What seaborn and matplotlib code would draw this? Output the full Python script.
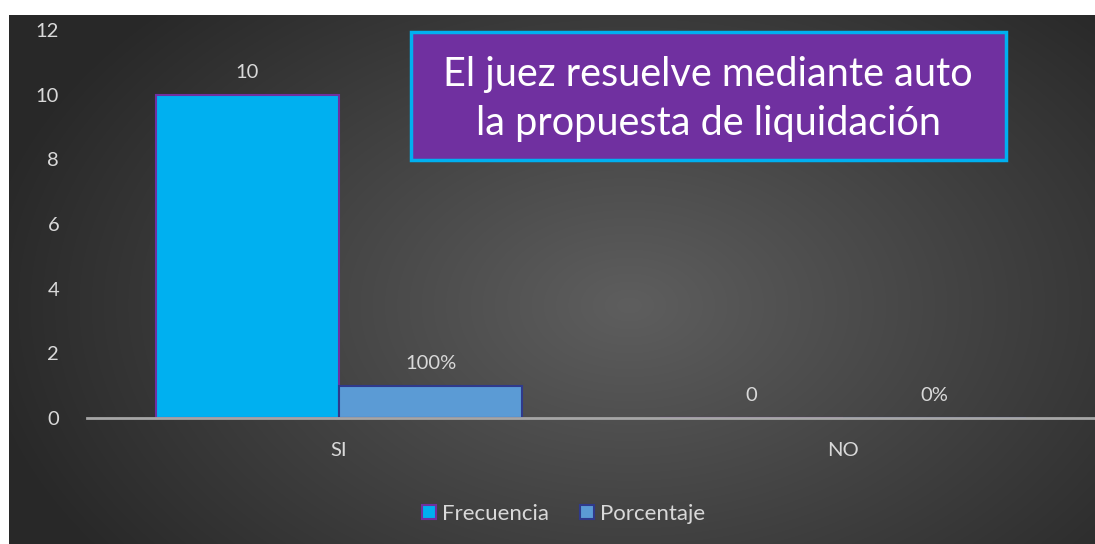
import numpy as np
import pandas as pd
import matplotlib
matplotlib.use("Agg")
import matplotlib.pyplot as plt
from matplotlib.patches import Patch, Rectangle
import seaborn as sns

# Datos del gráfico
categorias = ["SI", "NO"]
series = ["Frecuencia", "Porcentaje"]
frecuencia = [10, 0]
porcentaje = [1.0, 0.0]
etiquetas_frec = ["10", "0"]
etiquetas_porc = ["100%", "0%"]
titulo = "El juez resuelve mediante auto\nla propuesta de liquidación"

colores = {"Frecuencia": "#00B0F0", "Porcentaje": "#5B9BD5"}
bordes = {"Frecuencia": "#7030A0", "Porcentaje": "#2F3A8C"}

df = pd.DataFrame({
    "Categoria": categorias * 2,
    "Serie": ["Frecuencia"] * 2 + ["Porcentaje"] * 2,
    "Valor": frecuencia + porcentaje,
})

sns.set_style("white")
plt.rcParams["font.family"] = ["Lato", "DejaVu Sans"]
texto_gris = "#D9D9D9"

fig = plt.figure(figsize=(10.95, 5.44), dpi=100, facecolor="white")

# Fondo con degradado radial
fondo = fig.add_axes([9 / 1095, 0, 1086 / 1095, 529 / 544])
ny, nx = 529, 1086
yy, xx = np.mgrid[0:ny, 0:nx]
r = np.sqrt(((xx - 620) / 660) ** 2 + ((yy - 290) / 430) ** 2)
r = np.clip(r, 0, 1)
g = (0x5E + (0x28 - 0x5E) * r) / 255
img = np.dstack([g, g, g])
fondo.imshow(img, aspect="auto", extent=[0, 1, 0, 1])
fondo.set_axis_off()

ax = fig.add_axes([87 / 1095, (544 - 418) / 544, 1 - 87 / 1095, 388 / 544])
ax.set_facecolor("none")

sns.barplot(data=df, x="Categoria", y="Valor", hue="Serie", order=categorias,
            hue_order=series, palette=colores, saturation=1, width=0.728, ax=ax,
            legend=False, zorder=3)

for cont, serie, etiquetas in zip(ax.containers, series, [etiquetas_frec, etiquetas_porc]):
    for barra in cont:
        barra.set_edgecolor(bordes[serie])
        barra.set_linewidth(1.5)
    ax.bar_label(cont, labels=etiquetas, padding=10, color=texto_gris, fontsize=14.5)

ax.set_xlim(-0.5, 1.5)
ax.set_ylim(0, 12)
ax.set_yticks(range(0, 13, 2))
ax.set_xlabel("")
ax.set_ylabel("")
for lado in ["top", "right", "left"]:
    ax.spines[lado].set_visible(False)
ax.spines["bottom"].set_color("#A6A6A6")
ax.spines["bottom"].set_linewidth(2)
ax.spines["bottom"].set_zorder(4)
ax.tick_params(axis="y", length=0, pad=20, labelcolor=texto_gris, labelsize=14.5)
ax.tick_params(axis="x", length=0, pad=17, labelcolor=texto_gris, labelsize=14.5)
ax.grid(False)

# Leyenda
manejadores = [Patch(facecolor=colores[s], edgecolor=bordes[s], linewidth=1.5, label=s)
               for s in series]
fig.legend(handles=manejadores, loc="center", bbox_to_anchor=(0.515, 30 / 544),
           ncol=2, frameon=False, fontsize=16, labelcolor=texto_gris,
           handlelength=0.6, handleheight=0.6, handletextpad=0.3, columnspacing=1.4)

# Cuadro del título
caja = Rectangle((411 / 1095, (544 - 160) / 544), 595 / 1095, 128 / 544,
                 transform=fig.transFigure, facecolor="#7030A0",
                 edgecolor="#00B0F0", linewidth=2.5, zorder=5)
fig.patches.append(caja)
fig.text(708 / 1095, (544 - 99) / 544, titulo, ha="center", va="center",
         color="white", fontsize=28.5, linespacing=1.42, zorder=6)

fig.savefig("out.png", dpi=100, facecolor="white")
